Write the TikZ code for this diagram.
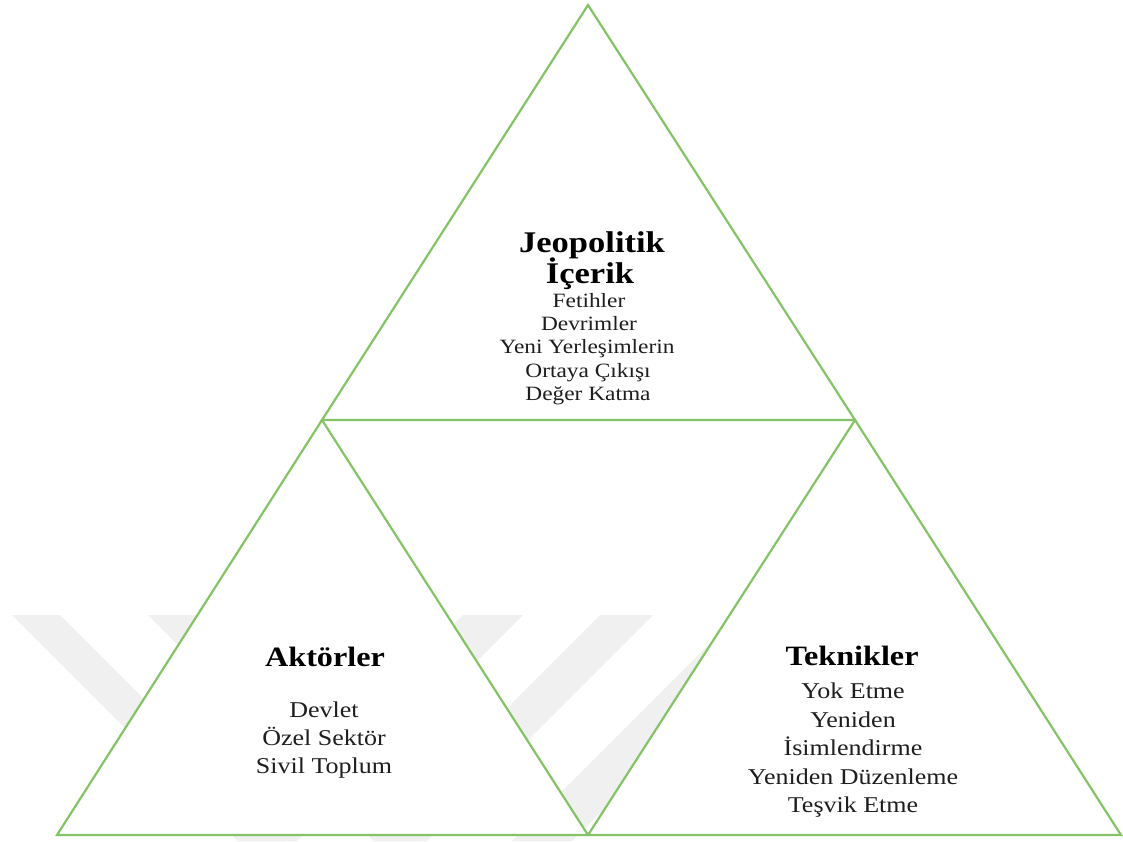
\documentclass[tikz,border=0pt]{standalone}
\usepackage{fontspec}
\setmainfont[FakeStretch=1.15]{Liberation Serif}
\definecolor{tri}{RGB}{132,196,102}
\definecolor{wm}{RGB}{240,240,240}
\definecolor{ink}{RGB}{30,30,30}
\begin{document}
\begin{tikzpicture}[x=1pt,y=-1pt,
  edge/.style={draw=tri,line width=2.2pt,line join=miter},
  band/.style={fill=wm,draw=none},
  tophead/.style={font=\fontsize{30}{32}\selectfont\bfseries,anchor=base,inner sep=0pt,text=black},
  topitem/.style={font=\fontsize{20.3}{22}\selectfont,anchor=base,inner sep=0pt,text=ink},
  head/.style={font=\fontsize{28}{30}\selectfont\bfseries,anchor=base,inner sep=0pt,text=black},
  item/.style={font=\fontsize{22.6}{25}\selectfont,anchor=base,inner sep=0pt,text=ink}]
\useasboundingbox (0,0) rectangle (1123,841);
% watermark
\begin{scope}
\clip (0,0) rectangle (1123,841);
\fill[band] (12,615) -- (60,615) -- (286,841) -- (238,841) -- cycle;
\fill[band] (148,615) -- (195,615) -- (421,841) -- (374,841) -- cycle;
\fill[band] (463,615) -- (523,615) -- (297,841) -- (237,841) -- cycle;
\fill[band] (600,615) -- (653,615) -- (427,841) -- (374,841) -- cycle;
\fill[band] (738,615) -- (798,615) -- (572,841) -- (512,841) -- cycle;
\end{scope}
% vertices
\coordinate (apex) at (588,5);
\coordinate (ml) at (322,420);
\coordinate (mr) at (855,420);
\coordinate (bl) at (57,835);
\coordinate (bm) at (588,835);
\coordinate (br) at (1121,835);
\filldraw[edge,fill=white] (apex) -- (mr) -- (ml) -- cycle;
\filldraw[edge,fill=white] (ml) -- (bm) -- (bl) -- cycle;
\filldraw[edge,fill=white] (mr) -- (br) -- (bm) -- cycle;
% top text
\node[tophead] (jt1) at (592,252) {Jeopolitik};
\node[tophead] (jt2) at (590,283) {İçerik};
\node[topitem] (j1) at (589,307) {Fetihler};
\node[topitem] (j2) at (589,330) {Devrimler};
\node[topitem] (j3) at (587,353) {Yeni Yerleşimlerin};
\node[topitem] (j4) at (588,377) {Ortaya Çıkışı};
\node[topitem] (j5) at (588,400) {Değer Katma};
% left text
\node[head] (at) at (325,666) {Aktörler};
\node[item] (a1) at (324,717) {Devlet};
\node[item] (a2) at (324,745) {Özel Sektör};
\node[item] (a3) at (324,773) {Sivil Toplum};
% right text
\node[head] (tt) at (852,665) {Teknikler};
\node[item] (t1) at (853,698) {Yok Etme};
\node[item] (t2) at (853,727) {Yeniden};
\node[item] (t3) at (853,755) {İsimlendirme};
\node[item] (t4) at (853,784) {Yeniden Düzenleme};
\node[item] (t5) at (853,812) {Teşvik Etme};
\end{tikzpicture}
\end{document}
